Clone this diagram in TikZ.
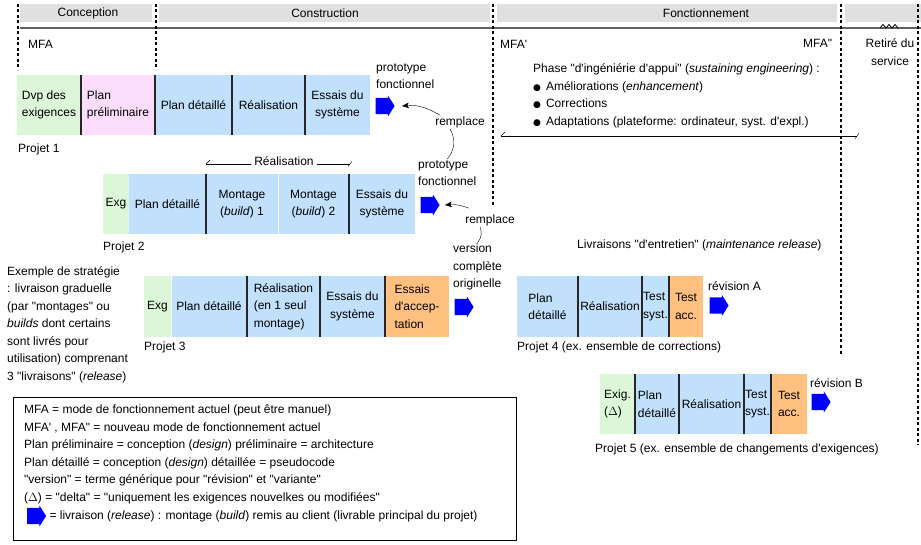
\documentclass[tikz,border=0pt]{standalone}
\usepackage{fontspec}
\newfontfamily\lsans{Liberation Sans}
\newfontfamily\dejavu{DejaVu Sans}
\usetikzlibrary{positioning,shapes.arrows,arrows.meta}

\definecolor{exgreen}{RGB}{220,246,216}
\definecolor{prepink}{RGB}{252,222,252}
\definecolor{detblue}{RGB}{192,224,252}
\definecolor{accorange}{RGB}{255,192,128}
\definecolor{bandgray}{RGB}{224,224,224}
\definecolor{rulegray}{RGB}{96,96,96}

\newcommand{\bul}{{\dejavu\fontsize{9}{9}\selectfont ●}\hspace{5pt}}

\tikzset{
  cell/.style={minimum height=60pt, inner sep=0.5pt, outer sep=0pt, align=center},
  exg/.style={cell, fill=exgreen},
  pre/.style={cell, fill=prepink},
  det/.style={cell, fill=detblue},
  acc/.style={cell, fill=accorange},
  sep/.style={line width=1.3pt, black!85},
  wsep/.style={line width=1pt, white},
  release/.style={single arrow, fill=blue, draw=none, inner xsep=3pt, inner ysep=8pt,
    minimum height=19pt, single arrow head extend=2.5pt, single arrow tip angle=115},
  lbl/.style={inner sep=1pt, align=left},
  phaseline/.style={dash pattern=on 3pt off 2.5pt, line width=1.1pt},
  tip/.style={-{Stealth[length=7pt,width=5.5pt,inset=1.5pt]}},
}

\begin{document}
\begin{tikzpicture}[x=1pt, y=1pt, font=\lsans\fontsize{12}{17.5}\selectfont]
    \useasboundingbox (0,0) rectangle (921,-545);

    % phases bar
    \fill[bandgray] (20,-4) rectangle (152,-22);
    \fill[bandgray] (159,-4) rectangle (490,-22);
    \fill[bandgray] (497,-4) rectangle (837,-22);
    \fill[bandgray] (845,-4) rectangle (921,-22);
    \node (hcon) at (88,-13) {Conception};
    \node (hcst) at (325,-13) {Construction};
    \node (hfct) at (706,-13) {Fonctionnement};
    \draw[rulegray, line width=2pt] (20,-28.5) -- (921,-28.5);
    \draw[line width=0.8pt] (880,-28) -- (883,-24.5) -- (886,-28) -- (889,-24.5) -- (892,-28) -- (895,-24.5) -- (898,-28);

    \draw[phaseline] (18,-4) -- (18,-70);
    \draw[phaseline] (156,-4) -- (156,-70);
    \draw[phaseline] (493,-4) -- (493,-205);
    \draw[phaseline] (841,-4) -- (841,-355);
    \draw[phaseline] (918,-4) -- (918,-445);

    \node[lbl, anchor=west] (mfa) at (27,-44) {MFA};
    \node[lbl, anchor=west] (mfa1) at (499,-44) {MFA'};
    \node[lbl, anchor=west] (mfa2) at (802,-43) {MFA"};
    \node[lbl, align=center] (retire) at (890,-52) {Retiré du\\service};

    % sustaining engineering
    \node[lbl, anchor=west] (phase) at (532,-96) {Phase "d'ingéniérie d'appui" (\textit{sustaining engineering}) :\\
      \bul Améliorations (\textit{enhancement})\\ \bul Corrections\\
      \bul Adaptations (plateforme: ordinateur, syst. d'expl.)};
    \coordinate (fl) at (501,-136);
    \coordinate (fr) at (857,-136);
    \draw (fl) -- (fr);
    \draw (fl) -- ++(4,4);
    \draw (fr) ++(-2,-3) -- ++(4,6);

    % Projet 1
    \node[exg, minimum width=64pt, anchor=west, align=left] (p1a) at (17,-105) {Dvp des\\exigences};
    \node[pre, minimum width=74pt, right=0pt of p1a, align=left] (p1b) {Plan\\préliminaire};
    \node[det, minimum width=77pt, right=0pt of p1b] (p1c) {Plan détaillé};
    \node[det, minimum width=73pt, right=0pt of p1c] (p1d) {Réalisation};
    \node[det, minimum width=65pt, right=0pt of p1d] (p1e) {Essais du\\système};
    \draw[sep] (p1a.north east) -- (p1a.south east); \draw[sep] (p1b.north east) -- (p1b.south east);
    \draw[sep] (p1c.north east) -- (p1c.south east); \draw[sep] (p1d.north east) -- (p1d.south east);
    \node[release] (r1) at (382.5,-106) {};
    \node[lbl, anchor=west] (prj1) at (17,-149) {Projet 1};
    \node[lbl, anchor=west] (proto1) at (375,-76) {prototype\\fonctionnel};
    \node[lbl] (rem1) at (460,-122) {remplace};
    \draw[tip] ([xshift=6pt]rem1.north west) to[out=150, in=5] ([xshift=7pt]r1.east);

    % Projet 2
    \coordinate (rb1) at (206,-164);
    \coordinate (rb2) at (350,-164);
    \node[lbl, inner sep=3pt] (realb) at (284,-161) {Réalisation};
    \draw (rb1) -- (rb1 -| realb.west);
    \draw (realb.east |- rb2) -- (rb2);
    \draw (rb1) -- ++(4,4);
    \draw (rb2) ++(-2,-2.5) -- ++(4,5);
    \node[exg, minimum width=26pt, anchor=west] (p2a) at (103,-204) {Exg};
    \node[det, minimum width=77pt, right=0pt of p2a] (p2b) {Plan détaillé};
    \node[det, minimum width=72pt, right=0pt of p2b] (p2c) {Montage\\(\textit{build}) 1};
    \node[det, minimum width=71pt, right=0pt of p2c] (p2d) {Montage\\(\textit{build}) 2};
    \node[det, minimum width=66pt, right=0pt of p2d] (p2e) {Essais du\\système};
    \draw[sep] (p2b.north east) -- (p2b.south east); \draw[wsep] (p2c.north east) -- (p2c.south east);
    \draw[sep] (p2d.north east) -- (p2d.south east);
    \node[release] (r2) at (427.5,-205) {};
    \node[lbl, anchor=west] (prj2) at (102,-247) {Projet 2};
    \node[lbl, anchor=west] (proto2) at (417,-173) {prototype\\fonctionnel};
    \node[lbl] (rem2) at (490,-220) {remplace};
    \node[lbl, anchor=west] (orig) at (452,-267) {version\\complète\\originelle};
    \draw ([xshift=-10pt]rem1.south) to[bend left=35] (proto2.north);
    \draw[tip] ([shift={(5pt,5pt)}]rem2.north west) to[out=160, in=5] ([xshift=5pt]r2.east);
    \draw ([xshift=-10pt]rem2.south) to[bend left=30] (orig.north);

    % Projet 3
    \node[lbl, anchor=west] (strat) at (6,-324.5) {Exemple de stratégie\\: livraison graduelle\\(par "montages" ou\\
      \textit{builds} dont certains\\sont livrés pour\\utilisation) comprenant\\3 "livraisons" (\textit{release})};
    \node[exg, minimum width=27pt, anchor=west] (p3a) at (144,-306.5) {Exg};
    \node[det, minimum width=76pt, right=0pt of p3a] (p3b) {Plan détaillé};
    \node[det, minimum width=73pt, right=0pt of p3b, align=left] (p3c) {Réalisation\\(en 1 seul\\montage)};
    \node[det, minimum width=65pt, right=0pt of p3c] (p3d) {Essais du\\système};
    \node[acc, minimum width=64pt, right=0pt of p3d, align=left] (p3e) {Essais\\d'accep-\\tation};
    \draw[wsep] (p3a.north east) -- (p3a.south east); \draw[sep] (p3b.north east) -- (p3b.south east);
    \draw[sep] (p3c.north east) -- (p3c.south east); \draw[sep] (p3d.north east) -- (p3d.south east);
    \node[release] (r3) at (461.5,-307) {};
    \node[lbl, anchor=west] (prj3) at (143,-347) {Projet 3};

    % Projet 4
    \node[lbl, anchor=west] (maint) at (576,-245) {Livraisons "d'entretien" (\textit{maintenance release})};
    \node[det, minimum width=61pt, anchor=west, align=left] (p4a) at (517,-306.5) {Plan\\détaillé};
    \node[det, minimum width=64pt, right=0pt of p4a] (p4b) {Réalisation};
    \node[det, minimum width=27pt, right=0pt of p4b, align=left] (p4c) {Test\\syst.};
    \node[acc, minimum width=34pt, right=0pt of p4c, align=left] (p4d) {Test\\acc.};
    \draw[sep] (p4a.north east) -- (p4a.south east); \draw[sep] (p4b.north east) -- (p4b.south east);
    \draw[sep] (p4c.north east) -- (p4c.south east);
    \node[release] (r4) at (716.5,-305.5) {};
    \node[lbl, anchor=west] (revA) at (707,-286) {révision A};
    \node[lbl, anchor=west] (prj4) at (516,-347) {Projet 4 (ex. ensemble de corrections)};

    % Projet 5
    \node[exg, minimum width=35pt, anchor=west, align=left] (p5a) at (600,-404) {Exig.\\($\Delta$)};
    \node[det, minimum width=44pt, right=0pt of p5a, align=left] (p5b) {Plan\\détaillé};
    \node[det, minimum width=65pt, right=0pt of p5b] (p5c) {Réalisation};
    \node[det, minimum width=27pt, right=0pt of p5c, align=left] (p5d) {Test\\syst.};
    \node[acc, minimum width=36pt, right=0pt of p5d, align=left] (p5e) {Test\\acc.};
    \draw[sep] (p5a.north east) -- (p5a.south east); \draw[sep] (p5b.north east) -- (p5b.south east);
    \draw[sep] (p5c.north east) -- (p5c.south east); \draw[sep] (p5d.north east) -- (p5d.south east);
    \node[release] (r5) at (818.5,-402) {};
    \node[lbl, anchor=west] (revB) at (809,-383) {révision B};
    \node[lbl, anchor=west] (prj5) at (594,-449) {Projet 5 (ex. ensemble de changements d'exigences)};

    % legend
    \draw[line width=0.8pt] (13,-397) rectangle (516,-540);
    \node[lbl, anchor=west] (leg) at (23,-454.5) {MFA = mode de fonctionnement actuel (peut être manuel)\\
      MFA' , MFA" = nouveau mode de fonctionnement actuel\\
      Plan préliminaire = conception (\textit{design}) préliminaire = architecture\\
      Plan détaillé = conception (\textit{design}) détaillée = pseudocode\\
      "version" = terme générique pour "révision" et "variante"\\
      ($\Delta$) = "delta" = "uniquement les exigences nouvelkes ou modifiées"};
    \node[release] (legarr) at (34,-516) {};
    \node[lbl, right=2pt of legarr] (legdef) {= livraison (\textit{release}) : montage (\textit{build}) remis au client (livrable principal du projet)};
\end{tikzpicture}
\end{document}
